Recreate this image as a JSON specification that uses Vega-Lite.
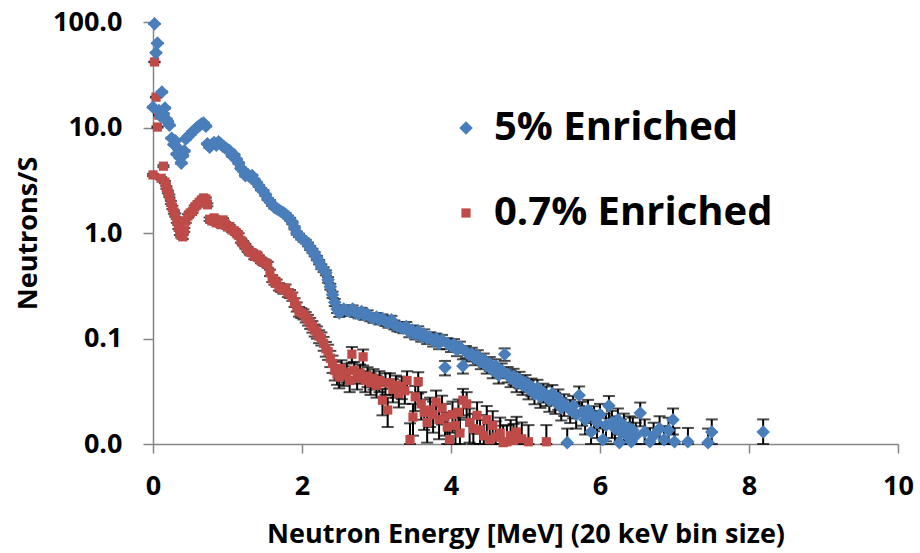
{
"$schema": "https://vega.github.io/schema/vega-lite/v6.json",
"width": 745, "height": 422,
"autosize": "none",
"padding": {"left": 153, "top": 22, "right": 22, "bottom": 109},
"background": "white",
"config": {"view": {"stroke": null}, "font": "Open Sans"},
"data": {"values": [
{"s":"0.7% Enriched","x":0.00,"y":3.55,"e":0.085},
{"s":"0.7% Enriched","x":0.02,"y":41.8,"e":0.29},
{"s":"0.7% Enriched","x":0.04,"y":19.4,"e":0.198},
{"s":"0.7% Enriched","x":0.06,"y":10.1,"e":0.143},
{"s":"0.7% Enriched","x":0.08,"y":13.1,"e":0.163},
{"s":"0.7% Enriched","x":0.11,"y":3.3,"e":0.082},
{"s":"0.7% Enriched","x":0.14,"y":4.3,"e":0.093},
{"s":"0.7% Enriched","x":0.16,"y":3.04,"e":0.078},
{"s":"0.7% Enriched","x":0.18,"y":2.7,"e":0.074},
{"s":"0.7% Enriched","x":0.20,"y":2.45,"e":0.07},
{"s":"0.7% Enriched","x":0.22,"y":2.25,"e":0.067},
{"s":"0.7% Enriched","x":0.24,"y":1.95,"e":0.063},
{"s":"0.7% Enriched","x":0.26,"y":1.75,"e":0.06},
{"s":"0.7% Enriched","x":0.28,"y":1.58,"e":0.057},
{"s":"0.7% Enriched","x":0.30,"y":1.48,"e":0.055},
{"s":"0.7% Enriched","x":0.32,"y":1.3,"e":0.052},
{"s":"0.7% Enriched","x":0.34,"y":1.14,"e":0.048},
{"s":"0.7% Enriched","x":0.36,"y":1.0,"e":0.045},
{"s":"0.7% Enriched","x":0.38,"y":0.95,"e":0.043},
{"s":"0.7% Enriched","x":0.40,"y":0.92,"e":0.043},
{"s":"0.7% Enriched","x":0.42,"y":1.07,"e":0.046},
{"s":"0.7% Enriched","x":0.44,"y":1.3,"e":0.052},
{"s":"0.7% Enriched","x":0.47,"y":1.45,"e":0.054},
{"s":"0.7% Enriched","x":0.50,"y":1.55,"e":0.056},
{"s":"0.7% Enriched","x":0.53,"y":1.6,"e":0.056},
{"s":"0.7% Enriched","x":0.56,"y":1.76,"e":0.06},
{"s":"0.7% Enriched","x":0.59,"y":1.85,"e":0.061},
{"s":"0.7% Enriched","x":0.62,"y":1.95,"e":0.063},
{"s":"0.7% Enriched","x":0.65,"y":2.05,"e":0.065},
{"s":"0.7% Enriched","x":0.68,"y":2.15,"e":0.066},
{"s":"0.7% Enriched","x":0.71,"y":2.1,"e":0.065},
{"s":"0.7% Enriched","x":0.73,"y":1.85,"e":0.061},
{"s":"0.7% Enriched","x":0.76,"y":1.35,"e":0.052},
{"s":"0.7% Enriched","x":0.79,"y":1.3,"e":0.052},
{"s":"0.7% Enriched","x":0.82,"y":1.39,"e":0.053},
{"s":"0.7% Enriched","x":0.85,"y":1.25,"e":0.05},
{"s":"0.7% Enriched","x":0.88,"y":1.27,"e":0.05},
{"s":"0.7% Enriched","x":0.91,"y":1.2,"e":0.049},
{"s":"0.7% Enriched","x":0.94,"y":1.33,"e":0.052},
{"s":"0.7% Enriched","x":0.97,"y":1.22,"e":0.049},
{"s":"0.7% Enriched","x":1.00,"y":1.14,"e":0.048},
{"s":"0.7% Enriched","x":1.03,"y":1.15,"e":0.048},
{"s":"0.7% Enriched","x":1.06,"y":1.07,"e":0.046},
{"s":"0.7% Enriched","x":1.09,"y":1.05,"e":0.046},
{"s":"0.7% Enriched","x":1.12,"y":1.0,"e":0.045},
{"s":"0.7% Enriched","x":1.15,"y":0.95,"e":0.043},
{"s":"0.7% Enriched","x":1.18,"y":0.85,"e":0.041},
{"s":"0.7% Enriched","x":1.21,"y":0.8,"e":0.04},
{"s":"0.7% Enriched","x":1.24,"y":0.75,"e":0.039},
{"s":"0.7% Enriched","x":1.27,"y":0.7,"e":0.038},
{"s":"0.7% Enriched","x":1.30,"y":0.66,"e":0.0365},
{"s":"0.7% Enriched","x":1.33,"y":0.65,"e":0.0365},
{"s":"0.7% Enriched","x":1.36,"y":0.6,"e":0.035},
{"s":"0.7% Enriched","x":1.39,"y":0.62,"e":0.035},
{"s":"0.7% Enriched","x":1.42,"y":0.58,"e":0.034},
{"s":"0.7% Enriched","x":1.45,"y":0.55,"e":0.033},
{"s":"0.7% Enriched","x":1.48,"y":0.53,"e":0.0325},
{"s":"0.7% Enriched","x":1.51,"y":0.52,"e":0.0325},
{"s":"0.7% Enriched","x":1.54,"y":0.5,"e":0.032},
{"s":"0.7% Enriched","x":1.57,"y":0.42,"e":0.029},
{"s":"0.7% Enriched","x":1.60,"y":0.37,"e":0.0274},
{"s":"0.7% Enriched","x":1.63,"y":0.35,"e":0.0266},
{"s":"0.7% Enriched","x":1.66,"y":0.336,"e":0.026},
{"s":"0.7% Enriched","x":1.69,"y":0.31,"e":0.025},
{"s":"0.7% Enriched","x":1.72,"y":0.3,"e":0.0245},
{"s":"0.7% Enriched","x":1.75,"y":0.29,"e":0.0245},
{"s":"0.7% Enriched","x":1.78,"y":0.3,"e":0.0245},
{"s":"0.7% Enriched","x":1.81,"y":0.27,"e":0.0234},
{"s":"0.7% Enriched","x":1.84,"y":0.265,"e":0.023},
{"s":"0.7% Enriched","x":1.87,"y":0.25,"e":0.0225},
{"s":"0.7% Enriched","x":1.90,"y":0.22,"e":0.021},
{"s":"0.7% Enriched","x":1.93,"y":0.2,"e":0.02},
{"s":"0.7% Enriched","x":1.96,"y":0.18,"e":0.019},
{"s":"0.7% Enriched","x":1.99,"y":0.175,"e":0.0188},
{"s":"0.7% Enriched","x":2.02,"y":0.17,"e":0.0185},
{"s":"0.7% Enriched","x":2.05,"y":0.16,"e":0.018},
{"s":"0.7% Enriched","x":2.08,"y":0.15,"e":0.0174},
{"s":"0.7% Enriched","x":2.11,"y":0.14,"e":0.0168},
{"s":"0.7% Enriched","x":2.14,"y":0.13,"e":0.0162},
{"s":"0.7% Enriched","x":2.17,"y":0.12,"e":0.0156},
{"s":"0.7% Enriched","x":2.20,"y":0.115,"e":0.0153},
{"s":"0.7% Enriched","x":2.23,"y":0.105,"e":0.0146},
{"s":"0.7% Enriched","x":2.26,"y":0.1,"e":0.0142},
{"s":"0.7% Enriched","x":2.29,"y":0.09,"e":0.0135},
{"s":"0.7% Enriched","x":2.32,"y":0.08,"e":0.0127},
{"s":"0.7% Enriched","x":2.35,"y":0.075,"e":0.0123},
{"s":"0.7% Enriched","x":2.38,"y":0.065,"e":0.0114},
{"s":"0.7% Enriched","x":2.41,"y":0.058,"e":0.0108},
{"s":"0.7% Enriched","x":2.44,"y":0.05,"e":0.01},
{"s":"0.7% Enriched","x":2.47,"y":0.046,"e":0.0096},
{"s":"0.7% Enriched","x":2.50,"y":0.043,"e":0.0093},
{"s":"0.7% Enriched","x":2.53,"y":0.052,"e":0.0102},
{"s":"0.7% Enriched","x":2.56,"y":0.045,"e":0.0095},
{"s":"0.7% Enriched","x":2.60,"y":0.048,"e":0.0098},
{"s":"0.7% Enriched","x":2.64,"y":0.04,"e":0.009},
{"s":"0.7% Enriched","x":2.67,"y":0.071,"e":0.012},
{"s":"0.7% Enriched","x":2.70,"y":0.05,"e":0.01},
{"s":"0.7% Enriched","x":2.74,"y":0.042,"e":0.0092},
{"s":"0.7% Enriched","x":2.78,"y":0.047,"e":0.0097},
{"s":"0.7% Enriched","x":2.82,"y":0.067,"e":0.0116},
{"s":"0.7% Enriched","x":2.85,"y":0.04,"e":0.009},
{"s":"0.7% Enriched","x":2.88,"y":0.044,"e":0.0094},
{"s":"0.7% Enriched","x":2.92,"y":0.038,"e":0.0088},
{"s":"0.7% Enriched","x":2.96,"y":0.042,"e":0.0092},
{"s":"0.7% Enriched","x":3.00,"y":0.036,"e":0.0085},
{"s":"0.7% Enriched","x":3.04,"y":0.04,"e":0.009},
{"s":"0.7% Enriched","x":3.08,"y":0.026,"e":0.0073},
{"s":"0.7% Enriched","x":3.12,"y":0.038,"e":0.0088},
{"s":"0.7% Enriched","x":3.15,"y":0.021,"e":0.0065},
{"s":"0.7% Enriched","x":3.18,"y":0.038,"e":0.0088},
{"s":"0.7% Enriched","x":3.22,"y":0.033,"e":0.0082},
{"s":"0.7% Enriched","x":3.26,"y":0.036,"e":0.0085},
{"s":"0.7% Enriched","x":3.30,"y":0.03,"e":0.0078},
{"s":"0.7% Enriched","x":3.34,"y":0.035,"e":0.0084},
{"s":"0.7% Enriched","x":3.38,"y":0.032,"e":0.008},
{"s":"0.7% Enriched","x":3.41,"y":0.04,"e":0.009},
{"s":"0.7% Enriched","x":3.45,"y":0.011,"e":0.0047},
{"s":"0.7% Enriched","x":3.49,"y":0.018,"e":0.006},
{"s":"0.7% Enriched","x":3.52,"y":0.028,"e":0.0075},
{"s":"0.7% Enriched","x":3.56,"y":0.039,"e":0.0089},
{"s":"0.7% Enriched","x":3.60,"y":0.024,"e":0.007},
{"s":"0.7% Enriched","x":3.64,"y":0.02,"e":0.0064},
{"s":"0.7% Enriched","x":3.68,"y":0.016,"e":0.0057},
{"s":"0.7% Enriched","x":3.72,"y":0.021,"e":0.0065},
{"s":"0.7% Enriched","x":3.76,"y":0.019,"e":0.0062},
{"s":"0.7% Enriched","x":3.80,"y":0.025,"e":0.0071},
{"s":"0.7% Enriched","x":3.84,"y":0.017,"e":0.0059},
{"s":"0.7% Enriched","x":3.88,"y":0.022,"e":0.0067},
{"s":"0.7% Enriched","x":3.92,"y":0.018,"e":0.006},
{"s":"0.7% Enriched","x":3.95,"y":0.0145,"e":0.0054},
{"s":"0.7% Enriched","x":3.98,"y":0.011,"e":0.0047},
{"s":"0.7% Enriched","x":4.02,"y":0.019,"e":0.0062},
{"s":"0.7% Enriched","x":4.06,"y":0.015,"e":0.0055},
{"s":"0.7% Enriched","x":4.10,"y":0.02,"e":0.0064},
{"s":"0.7% Enriched","x":4.12,"y":0.0127,"e":0.0051},
{"s":"0.7% Enriched","x":4.16,"y":0.026,"e":0.0073},
{"s":"0.7% Enriched","x":4.21,"y":0.024,"e":0.007},
{"s":"0.7% Enriched","x":4.25,"y":0.016,"e":0.0057},
{"s":"0.7% Enriched","x":4.30,"y":0.014,"e":0.0053},
{"s":"0.7% Enriched","x":4.35,"y":0.0187,"e":0.0062},
{"s":"0.7% Enriched","x":4.39,"y":0.0136,"e":0.0052},
{"s":"0.7% Enriched","x":4.44,"y":0.012,"e":0.0049},
{"s":"0.7% Enriched","x":4.48,"y":0.017,"e":0.0059},
{"s":"0.7% Enriched","x":4.52,"y":0.011,"e":0.0047},
{"s":"0.7% Enriched","x":4.56,"y":0.015,"e":0.0055},
{"s":"0.7% Enriched","x":4.60,"y":0.0116,"e":0.0048},
{"s":"0.7% Enriched","x":4.66,"y":0.0127,"e":0.0051},
{"s":"0.7% Enriched","x":4.70,"y":0.0103,"e":0.0046},
{"s":"0.7% Enriched","x":4.75,"y":0.0105,"e":0.0046},
{"s":"0.7% Enriched","x":4.80,"y":0.012,"e":0.0049},
{"s":"0.7% Enriched","x":4.84,"y":0.0108,"e":0.0047},
{"s":"0.7% Enriched","x":4.88,"y":0.013,"e":0.0051},
{"s":"0.7% Enriched","x":4.95,"y":0.0112,"e":0.0048},
{"s":"0.7% Enriched","x":5.04,"y":0.0105,"e":0.0046},
{"s":"0.7% Enriched","x":5.28,"y":0.0105,"e":0.0046},
{"s":"5% Enriched","x":0.00,"y":15.6,"e":0.14},
{"s":"5% Enriched","x":0.02,"y":96,"e":0.35},
{"s":"5% Enriched","x":0.04,"y":51,"e":0.26},
{"s":"5% Enriched","x":0.06,"y":63,"e":0.29},
{"s":"5% Enriched","x":0.08,"y":14.5,"e":0.14},
{"s":"5% Enriched","x":0.10,"y":12.8,"e":0.13},
{"s":"5% Enriched","x":0.12,"y":21.7,"e":0.17},
{"s":"5% Enriched","x":0.14,"y":13.5,"e":0.13},
{"s":"5% Enriched","x":0.16,"y":15.3,"e":0.14},
{"s":"5% Enriched","x":0.18,"y":12.0,"e":0.125},
{"s":"5% Enriched","x":0.20,"y":11.3,"e":0.12},
{"s":"5% Enriched","x":0.22,"y":10.5,"e":0.117},
{"s":"5% Enriched","x":0.25,"y":7.9,"e":0.10},
{"s":"5% Enriched","x":0.28,"y":6.9,"e":0.095},
{"s":"5% Enriched","x":0.30,"y":7.5,"e":0.099},
{"s":"5% Enriched","x":0.32,"y":5.6,"e":0.085},
{"s":"5% Enriched","x":0.34,"y":6.3,"e":0.09},
{"s":"5% Enriched","x":0.36,"y":5.2,"e":0.082},
{"s":"5% Enriched","x":0.38,"y":4.6,"e":0.077},
{"s":"5% Enriched","x":0.40,"y":5.4,"e":0.084},
{"s":"5% Enriched","x":0.42,"y":6.0,"e":0.088},
{"s":"5% Enriched","x":0.44,"y":7.8,"e":0.1},
{"s":"5% Enriched","x":0.47,"y":8.2,"e":0.103},
{"s":"5% Enriched","x":0.50,"y":8.6,"e":0.105},
{"s":"5% Enriched","x":0.53,"y":9.1,"e":0.109},
{"s":"5% Enriched","x":0.56,"y":9.5,"e":0.111},
{"s":"5% Enriched","x":0.59,"y":10.0,"e":0.114},
{"s":"5% Enriched","x":0.62,"y":10.4,"e":0.116},
{"s":"5% Enriched","x":0.65,"y":10.8,"e":0.118},
{"s":"5% Enriched","x":0.68,"y":11.0,"e":0.119},
{"s":"5% Enriched","x":0.71,"y":10.3,"e":0.115},
{"s":"5% Enriched","x":0.73,"y":7.0,"e":0.095},
{"s":"5% Enriched","x":0.76,"y":6.5,"e":0.092},
{"s":"5% Enriched","x":0.79,"y":6.9,"e":0.095},
{"s":"5% Enriched","x":0.82,"y":7.2,"e":0.096},
{"s":"5% Enriched","x":0.85,"y":6.8,"e":0.094},
{"s":"5% Enriched","x":0.88,"y":7.3,"e":0.097},
{"s":"5% Enriched","x":0.91,"y":7.0,"e":0.095},
{"s":"5% Enriched","x":0.94,"y":6.6,"e":0.092},
{"s":"5% Enriched","x":0.97,"y":6.4,"e":0.091},
{"s":"5% Enriched","x":1.00,"y":6.2,"e":0.089},
{"s":"5% Enriched","x":1.03,"y":6.0,"e":0.088},
{"s":"5% Enriched","x":1.06,"y":5.4,"e":0.084},
{"s":"5% Enriched","x":1.09,"y":5.5,"e":0.084},
{"s":"5% Enriched","x":1.12,"y":5.0,"e":0.08},
{"s":"5% Enriched","x":1.15,"y":4.6,"e":0.077},
{"s":"5% Enriched","x":1.18,"y":4.1,"e":0.073},
{"s":"5% Enriched","x":1.21,"y":3.9,"e":0.071},
{"s":"5% Enriched","x":1.24,"y":3.5,"e":0.067},
{"s":"5% Enriched","x":1.27,"y":3.6,"e":0.068},
{"s":"5% Enriched","x":1.30,"y":3.4,"e":0.066},
{"s":"5% Enriched","x":1.33,"y":3.5,"e":0.067},
{"s":"5% Enriched","x":1.36,"y":3.2,"e":0.064},
{"s":"5% Enriched","x":1.39,"y":3.0,"e":0.062},
{"s":"5% Enriched","x":1.42,"y":2.8,"e":0.06},
{"s":"5% Enriched","x":1.45,"y":2.6,"e":0.058},
{"s":"5% Enriched","x":1.48,"y":2.5,"e":0.057},
{"s":"5% Enriched","x":1.51,"y":2.3,"e":0.055},
{"s":"5% Enriched","x":1.54,"y":2.1,"e":0.052},
{"s":"5% Enriched","x":1.57,"y":2.0,"e":0.051},
{"s":"5% Enriched","x":1.60,"y":1.85,"e":0.049},
{"s":"5% Enriched","x":1.63,"y":1.75,"e":0.048},
{"s":"5% Enriched","x":1.66,"y":1.7,"e":0.047},
{"s":"5% Enriched","x":1.69,"y":1.65,"e":0.046},
{"s":"5% Enriched","x":1.72,"y":1.6,"e":0.046},
{"s":"5% Enriched","x":1.75,"y":1.55,"e":0.045},
{"s":"5% Enriched","x":1.78,"y":1.5,"e":0.044},
{"s":"5% Enriched","x":1.81,"y":1.42,"e":0.043},
{"s":"5% Enriched","x":1.84,"y":1.35,"e":0.042},
{"s":"5% Enriched","x":1.87,"y":1.25,"e":0.04},
{"s":"5% Enriched","x":1.90,"y":1.12,"e":0.038},
{"s":"5% Enriched","x":1.93,"y":1.0,"e":0.036},
{"s":"5% Enriched","x":1.96,"y":0.95,"e":0.035},
{"s":"5% Enriched","x":1.99,"y":0.9,"e":0.034},
{"s":"5% Enriched","x":2.02,"y":0.86,"e":0.033},
{"s":"5% Enriched","x":2.05,"y":0.83,"e":0.033},
{"s":"5% Enriched","x":2.08,"y":0.78,"e":0.032},
{"s":"5% Enriched","x":2.11,"y":0.72,"e":0.031},
{"s":"5% Enriched","x":2.14,"y":0.68,"e":0.03},
{"s":"5% Enriched","x":2.17,"y":0.63,"e":0.029},
{"s":"5% Enriched","x":2.20,"y":0.58,"e":0.027},
{"s":"5% Enriched","x":2.23,"y":0.53,"e":0.026},
{"s":"5% Enriched","x":2.26,"y":0.48,"e":0.025},
{"s":"5% Enriched","x":2.29,"y":0.45,"e":0.024},
{"s":"5% Enriched","x":2.32,"y":0.42,"e":0.023},
{"s":"5% Enriched","x":2.35,"y":0.36,"e":0.022},
{"s":"5% Enriched","x":2.38,"y":0.31,"e":0.02},
{"s":"5% Enriched","x":2.41,"y":0.26,"e":0.018},
{"s":"5% Enriched","x":2.44,"y":0.22,"e":0.017},
{"s":"5% Enriched","x":2.47,"y":0.19,"e":0.0157},
{"s":"5% Enriched","x":2.50,"y":0.175,"e":0.015},
{"s":"5% Enriched","x":2.53,"y":0.18,"e":0.0153},
{"s":"5% Enriched","x":2.56,"y":0.19,"e":0.0157},
{"s":"5% Enriched","x":2.60,"y":0.185,"e":0.0155},
{"s":"5% Enriched","x":2.64,"y":0.18,"e":0.0153},
{"s":"5% Enriched","x":2.68,"y":0.19,"e":0.0157},
{"s":"5% Enriched","x":2.72,"y":0.175,"e":0.015},
{"s":"5% Enriched","x":2.76,"y":0.17,"e":0.0148},
{"s":"5% Enriched","x":2.80,"y":0.18,"e":0.0153},
{"s":"5% Enriched","x":2.84,"y":0.165,"e":0.0146},
{"s":"5% Enriched","x":2.88,"y":0.17,"e":0.0148},
{"s":"5% Enriched","x":2.92,"y":0.16,"e":0.0144},
{"s":"5% Enriched","x":2.96,"y":0.155,"e":0.0142},
{"s":"5% Enriched","x":3.00,"y":0.16,"e":0.0144},
{"s":"5% Enriched","x":3.04,"y":0.15,"e":0.014},
{"s":"5% Enriched","x":3.08,"y":0.155,"e":0.0142},
{"s":"5% Enriched","x":3.12,"y":0.145,"e":0.0137},
{"s":"5% Enriched","x":3.16,"y":0.14,"e":0.0135},
{"s":"5% Enriched","x":3.20,"y":0.15,"e":0.014},
{"s":"5% Enriched","x":3.24,"y":0.135,"e":0.0132},
{"s":"5% Enriched","x":3.28,"y":0.13,"e":0.013},
{"s":"5% Enriched","x":3.32,"y":0.128,"e":0.0129},
{"s":"5% Enriched","x":3.36,"y":0.125,"e":0.0127},
{"s":"5% Enriched","x":3.40,"y":0.13,"e":0.013},
{"s":"5% Enriched","x":3.44,"y":0.115,"e":0.0122},
{"s":"5% Enriched","x":3.48,"y":0.12,"e":0.0125},
{"s":"5% Enriched","x":3.52,"y":0.11,"e":0.012},
{"s":"5% Enriched","x":3.56,"y":0.118,"e":0.0124},
{"s":"5% Enriched","x":3.60,"y":0.105,"e":0.0117},
{"s":"5% Enriched","x":3.64,"y":0.11,"e":0.012},
{"s":"5% Enriched","x":3.68,"y":0.1,"e":0.0114},
{"s":"5% Enriched","x":3.72,"y":0.103,"e":0.0116},
{"s":"5% Enriched","x":3.76,"y":0.095,"e":0.0111},
{"s":"5% Enriched","x":3.80,"y":0.1,"e":0.0114},
{"s":"5% Enriched","x":3.84,"y":0.09,"e":0.0108},
{"s":"5% Enriched","x":3.88,"y":0.097,"e":0.0112},
{"s":"5% Enriched","x":3.92,"y":0.053,"e":0.0083},
{"s":"5% Enriched","x":3.95,"y":0.09,"e":0.0108},
{"s":"5% Enriched","x":4.00,"y":0.085,"e":0.0105},
{"s":"5% Enriched","x":4.04,"y":0.088,"e":0.0107},
{"s":"5% Enriched","x":4.08,"y":0.078,"e":0.01},
{"s":"5% Enriched","x":4.12,"y":0.083,"e":0.0104},
{"s":"5% Enriched","x":4.16,"y":0.055,"e":0.0085},
{"s":"5% Enriched","x":4.20,"y":0.075,"e":0.0099},
{"s":"5% Enriched","x":4.24,"y":0.07,"e":0.0095},
{"s":"5% Enriched","x":4.28,"y":0.072,"e":0.0097},
{"s":"5% Enriched","x":4.32,"y":0.065,"e":0.0092},
{"s":"5% Enriched","x":4.36,"y":0.068,"e":0.0094},
{"s":"5% Enriched","x":4.40,"y":0.06,"e":0.0088},
{"s":"5% Enriched","x":4.44,"y":0.063,"e":0.009},
{"s":"5% Enriched","x":4.48,"y":0.055,"e":0.0085},
{"s":"5% Enriched","x":4.52,"y":0.058,"e":0.0087},
{"s":"5% Enriched","x":4.56,"y":0.05,"e":0.008},
{"s":"5% Enriched","x":4.60,"y":0.055,"e":0.0085},
{"s":"5% Enriched","x":4.64,"y":0.045,"e":0.0076},
{"s":"5% Enriched","x":4.68,"y":0.05,"e":0.008},
{"s":"5% Enriched","x":4.72,"y":0.071,"e":0.0096},
{"s":"5% Enriched","x":4.76,"y":0.046,"e":0.0077},
{"s":"5% Enriched","x":4.80,"y":0.042,"e":0.0074},
{"s":"5% Enriched","x":4.84,"y":0.044,"e":0.0076},
{"s":"5% Enriched","x":4.88,"y":0.038,"e":0.007},
{"s":"5% Enriched","x":4.92,"y":0.041,"e":0.0073},
{"s":"5% Enriched","x":4.96,"y":0.036,"e":0.0068},
{"s":"5% Enriched","x":5.00,"y":0.038,"e":0.007},
{"s":"5% Enriched","x":5.04,"y":0.033,"e":0.0065},
{"s":"5% Enriched","x":5.08,"y":0.035,"e":0.0067},
{"s":"5% Enriched","x":5.12,"y":0.03,"e":0.0062},
{"s":"5% Enriched","x":5.16,"y":0.034,"e":0.0066},
{"s":"5% Enriched","x":5.20,"y":0.028,"e":0.006},
{"s":"5% Enriched","x":5.24,"y":0.031,"e":0.0063},
{"s":"5% Enriched","x":5.28,"y":0.029,"e":0.0061},
{"s":"5% Enriched","x":5.32,"y":0.026,"e":0.0058},
{"s":"5% Enriched","x":5.36,"y":0.03,"e":0.0062},
{"s":"5% Enriched","x":5.40,"y":0.025,"e":0.0057},
{"s":"5% Enriched","x":5.44,"y":0.027,"e":0.0059},
{"s":"5% Enriched","x":5.48,"y":0.022,"e":0.0053},
{"s":"5% Enriched","x":5.52,"y":0.024,"e":0.0056},
{"s":"5% Enriched","x":5.56,"y":0.0103,"e":0.0037},
{"s":"5% Enriched","x":5.60,"y":0.021,"e":0.0052},
{"s":"5% Enriched","x":5.64,"y":0.023,"e":0.0055},
{"s":"5% Enriched","x":5.68,"y":0.019,"e":0.005},
{"s":"5% Enriched","x":5.72,"y":0.029,"e":0.0061},
{"s":"5% Enriched","x":5.76,"y":0.02,"e":0.0051},
{"s":"5% Enriched","x":5.80,"y":0.017,"e":0.0047},
{"s":"5% Enriched","x":5.84,"y":0.021,"e":0.0052},
{"s":"5% Enriched","x":5.88,"y":0.013,"e":0.0041},
{"s":"5% Enriched","x":5.92,"y":0.018,"e":0.0048},
{"s":"5% Enriched","x":5.96,"y":0.016,"e":0.0046},
{"s":"5% Enriched","x":6.00,"y":0.019,"e":0.005},
{"s":"5% Enriched","x":6.04,"y":0.011,"e":0.0038},
{"s":"5% Enriched","x":6.08,"y":0.015,"e":0.0044},
{"s":"5% Enriched","x":6.12,"y":0.023,"e":0.0055},
{"s":"5% Enriched","x":6.16,"y":0.016,"e":0.0046},
{"s":"5% Enriched","x":6.20,"y":0.014,"e":0.0043},
{"s":"5% Enriched","x":6.24,"y":0.017,"e":0.0047},
{"s":"5% Enriched","x":6.26,"y":0.0103,"e":0.0037},
{"s":"5% Enriched","x":6.28,"y":0.013,"e":0.0041},
{"s":"5% Enriched","x":6.32,"y":0.015,"e":0.0044},
{"s":"5% Enriched","x":6.36,"y":0.012,"e":0.0039},
{"s":"5% Enriched","x":6.40,"y":0.014,"e":0.0043},
{"s":"5% Enriched","x":6.42,"y":0.0105,"e":0.0037},
{"s":"5% Enriched","x":6.44,"y":0.0136,"e":0.0042},
{"s":"5% Enriched","x":6.48,"y":0.012,"e":0.0039},
{"s":"5% Enriched","x":6.54,"y":0.0197,"e":0.005},
{"s":"5% Enriched","x":6.60,"y":0.013,"e":0.0041},
{"s":"5% Enriched","x":6.67,"y":0.0105,"e":0.0037},
{"s":"5% Enriched","x":6.72,"y":0.012,"e":0.0039},
{"s":"5% Enriched","x":6.80,"y":0.014,"e":0.0043},
{"s":"5% Enriched","x":6.86,"y":0.011,"e":0.0038},
{"s":"5% Enriched","x":6.92,"y":0.0135,"e":0.0042},
{"s":"5% Enriched","x":6.98,"y":0.017,"e":0.0047},
{"s":"5% Enriched","x":7.00,"y":0.0105,"e":0.0037},
{"s":"5% Enriched","x":7.18,"y":0.0105,"e":0.0037},
{"s":"5% Enriched","x":7.45,"y":0.0103,"e":0.0037},
{"s":"5% Enriched","x":7.50,"y":0.013,"e":0.0041},
{"s":"5% Enriched","x":8.19,"y":0.013,"e":0.0041}
]},
"encoding": {
  "x": {"field": "x", "type": "quantitative",
        "scale": {"domain": [0, 10], "nice": false},
        "axis": {"title": "Neutron Energy [MeV] (20 keV bin size)", "values": [0, 2, 4, 6, 8, 10], "format": "d",
                 "grid": false, "domainColor": "#868686", "domainWidth": 1.5, "tickColor": "#868686", "tickWidth": 1.5, "tickSize": 9,
                 "labelFont": "Open Sans", "labelFontSize": 27, "labelFontWeight": "bold", "labelColor": "black", "labelPadding": 20,
                 "labelFlush": false, "labelOverlap": false,
                 "titleFont": "Open Sans", "titleFontSize": 27, "titleFontWeight": "bold", "titleColor": "black",
                 "titleBaseline": "alphabetic", "titleY": 98}},
  "y": {"field": "y", "type": "quantitative",
        "scale": {"type": "log", "domain": [0.01, 100], "clamp": true, "nice": false},
        "axis": {"title": "Neutrons/S", "values": [0.01, 0.1, 1, 10, 100], "format": ".1f",
                 "grid": false, "domainColor": "#868686", "domainWidth": 1.5, "tickColor": "#868686", "tickWidth": 1.5, "tickSize": 10,
                 "labelFont": "Open Sans", "labelFontSize": 27, "labelFontWeight": "bold", "labelColor": "black", "labelPadding": 21,
                 "labelFlush": false, "labelOverlap": false,
                 "titleFont": "Open Sans", "titleFontSize": 27, "titleFontWeight": "bold", "titleColor": "black",
                 "titleX": -125, "titleY": 211, "titleBaseline": "middle", "titleAngle": -90}}
},
"layer": [
  {"mark": {"type": "errorbar", "color": "black", "thickness": 2, "ticks": {"size": 12, "color": "black", "thickness": 2}},
   "encoding": {"yError": {"field": "e"}}},
  {"mark": {"type": "point", "filled": true, "opacity": 1, "strokeWidth": 0},
   "encoding": {
     "color": {"field": "s", "type": "nominal",
               "scale": {"domain": ["5% Enriched", "0.7% Enriched"], "range": ["#4A7EBB", "#BE4B48"]},
               "legend": {"orient": "none", "legendX": 293, "legendY": 86, "title": null, "padding": 0,
                          "labelFont": "Open Sans", "labelFontSize": 40, "labelFontWeight": "bold", "labelColor": "black",
                          "labelLimit": 0, "rowPadding": 45, "labelOffset": 8, "symbolStrokeWidth": 0, "symbolOpacity": 1}},
     "shape": {"field": "s", "type": "nominal",
               "scale": {"domain": ["5% Enriched", "0.7% Enriched"], "range": ["diamond", "square"]}},
     "size": {"field": "s", "type": "nominal",
              "scale": {"domain": ["5% Enriched", "0.7% Enriched"], "range": [185, 85]}}
   }}
]
}
